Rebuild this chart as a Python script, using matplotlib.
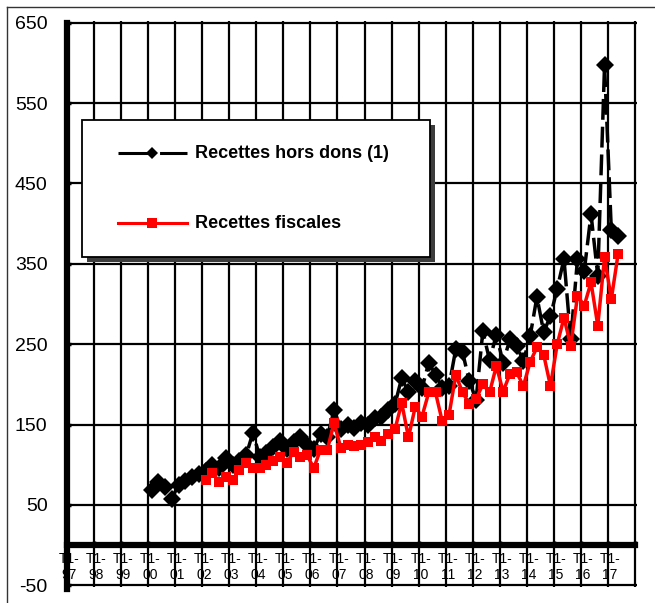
import matplotlib
matplotlib.use("Agg")
import matplotlib.pyplot as plt
import numpy as np
from matplotlib.lines import Line2D
from matplotlib.patches import Rectangle

plt.rcParams["font.family"] = ["Liberation Sans", "DejaVu Sans"]

# Trimestres T1-97 ... T4-17
annees = ["97", "98", "99", "00", "01", "02", "03", "04", "05", "06", "07",
          "08", "09", "10", "11", "12", "13", "14", "15", "16", "17"]
trimestres = [f"T{q}-{a}" for a in annees for q in range(1, 5)]

# Recettes hors dons (1), a partir de T1-00
debut_hors_dons = "T1-00"
recettes_hors_dons = [
    69, 78, 72, 58,
    75, 80, 85, 88,
    92, 100, 96, 108,
    100, 105, 112, 140,
    110, 115, 122, 130,
    120, 128, 135, 125,
    120, 138, 135, 168,
    145, 150, 146, 152,
    150, 158, 160, 168,
    175, 208, 190, 204,
    195, 227, 212, 196,
    198, 244, 240, 204,
    181, 266, 230, 262,
    227, 256, 248, 229,
    260, 309, 265, 285,
    319, 356, 256, 356,
    341, 412, 335, 597,
    392, 385,
]

# Recettes fiscales, a partir de T1-02
debut_fiscales = "T1-02"
recettes_fiscales = [
    81, 90, 79, 85,
    81, 94, 102, 96,
    96, 100, 105, 110,
    102, 116, 110, 112,
    96, 119, 119, 152,
    121, 124, 123, 125,
    128, 135, 129, 138,
    144, 177, 134, 172,
    160, 190, 190, 154,
    162, 212, 190, 176,
    182, 200, 190, 223,
    191, 213, 215, 198,
    228, 246, 237, 198,
    250, 283, 248, 310,
    298, 327, 273, 358,
    306, 362,
]

x_hd = trimestres.index(debut_hors_dons) + np.arange(len(recettes_hors_dons)) + 0.5
x_rf = trimestres.index(debut_fiscales) + np.arange(len(recettes_fiscales)) + 0.5

fig = plt.figure(figsize=(6.55, 6.03), dpi=100)
ax = fig.add_axes([67 / 655, 16 / 603, 570 / 655, 566 / 603])

n = len(trimestres)
ax.set_xlim(0, n + 0.3)
ax.set_ylim(-52, 652)

# cadre exterieur
fig.add_artist(Line2D([7 / 655, 1.0], [596 / 603, 596 / 603], color="#333333", lw=1))
fig.add_artist(Line2D([7 / 655, 7 / 655], [0, 596 / 603], color="#333333", lw=1))

# grille
yt = np.arange(-50, 651, 100)
ax.set_yticks(yt)
ax.set_yticklabels([str(v) for v in yt], fontsize=14)
bornes = np.arange(0, n + 1, 4)
ax.set_xticks(bornes, minor=True)
ax.set_xticks(bornes[:-1] + 0.3)
ax.set_xticklabels(["T1-\n" + a for a in annees], fontsize=10, linespacing=1.75)
ax.grid(axis="y", which="major", color="black", lw=1.6)
ax.grid(axis="x", which="minor", color="black", lw=1.6)
ax.set_axisbelow(True)

for s in ["top", "right"]:
    ax.spines[s].set_visible(False)
ax.spines["left"].set_linewidth(4.5)
ax.spines["bottom"].set_linewidth(4.5)
ax.spines["bottom"].set_position(("data", 0))
ax.spines["bottom"].set_bounds(0, n)
ax.spines["left"].set_bounds(-55, 650)

ax.tick_params(axis="x", which="major", length=0, pad=5)
ax.tick_params(axis="x", which="minor", length=3, width=2.5, direction="in")
ax.tick_params(axis="y", which="major", length=3, width=2.5, direction="in", pad=14)

ax.plot(x_hd, recettes_hors_dons, color="black", lw=2.5, ls=(0, (6, 2)),
        marker="D", ms=8.8, mew=0, zorder=3)
ax.plot(x_rf, recettes_fiscales, color="#ff0000", lw=2.5,
        marker="s", ms=7.8, mew=0, zorder=4)

# legende
def fx(px):
    return px / 655


def fy(py):
    return (603 - py) / 603


fig.add_artist(Rectangle((fx(87), fy(262)), fx(348), 137 / 603,
                         facecolor="#3c3c3c", edgecolor="none", zorder=5))
fig.add_artist(Rectangle((fx(82), fy(257)), fx(348), 137 / 603,
                         facecolor="white", edgecolor="black", lw=1.3, zorder=6))
fig.add_artist(Line2D([fx(118), fx(187)], [fy(153), fy(153)], color="black", lw=2.2,
                      ls=(0, (11, 2.6)), zorder=7))
fig.add_artist(Line2D([fx(152)], [fy(153)], color="black", marker="D", ms=6.5,
                      mew=0, zorder=8))
fig.add_artist(Line2D([fx(118), fx(187)], [fy(223), fy(223)], color="#ff0000", lw=2.2,
                      zorder=7))
fig.add_artist(Line2D([fx(152)], [fy(223)], color="#ff0000", marker="s", ms=6.5,
                      mew=0, zorder=8))
fig.text(fx(195), fy(153), "Recettes hors dons (1)", fontsize=13, fontweight="bold",
         va="center", ha="left", zorder=8)
fig.text(fx(195), fy(223), "Recettes fiscales", fontsize=13, fontweight="bold",
         va="center", ha="left", zorder=8)

fig.savefig("out.png", dpi=100)
